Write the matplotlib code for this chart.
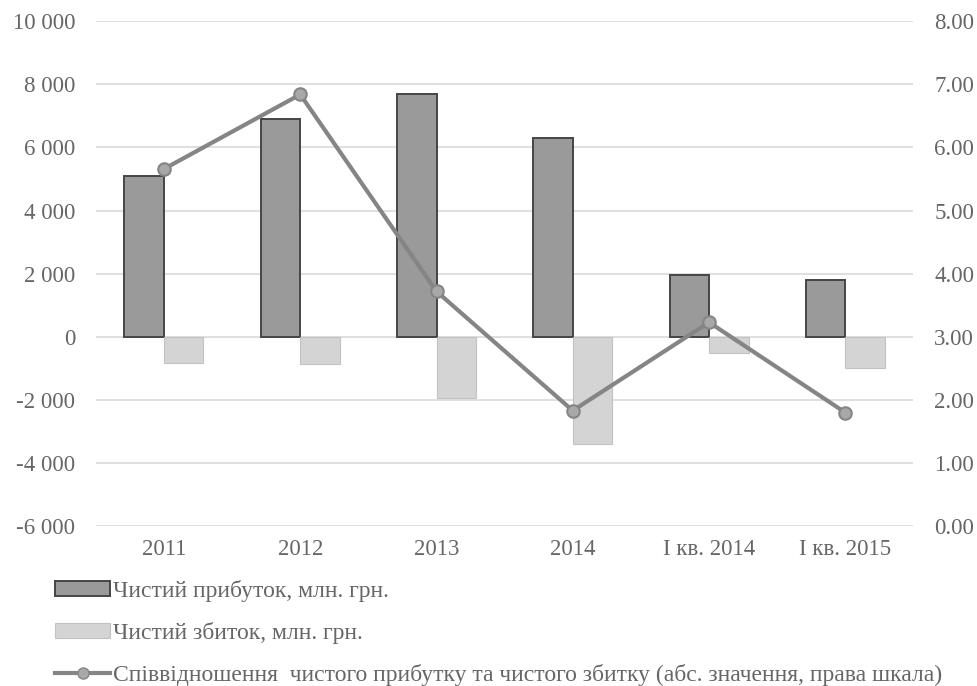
import numpy as np
import matplotlib
matplotlib.use('Agg')
import matplotlib.pyplot as plt
from matplotlib.lines import Line2D
from matplotlib.patches import Patch

plt.rcParams['font.family'] = ['Liberation Serif', 'DejaVu Serif']

categories = ['2011', '2012', '2013', '2014', 'І кв. 2014', 'І кв. 2015']
profit = [5100, 6900, 7700, 6300, 1950, 1800]
loss = [-820, -870, -1950, -3400, -520, -1000]
ratio = [5.66, 6.84, 3.72, 1.83, 3.23, 1.80]

label_profit = 'Чистий прибуток, млн. грн.'
label_loss = 'Чистий збиток, млн. грн.'
label_ratio = 'Співвідношення  чистого прибутку та чистого збитку (абс. значення, права шкала)'

text_color = '#666666'
fs = 16.5

fig = plt.figure(figsize=(9.78, 6.86), dpi=100)
ax = fig.add_axes([0.098, 0.233, 0.836, 0.736])
ax2 = ax.twinx()

x = np.arange(len(categories))
w = 0.29

ax.bar(x - w / 2, profit, width=w, color='#9a9a9a', edgecolor='#454545', linewidth=1.4, zorder=3)
ax.bar(x + w / 2, loss, width=w, color='#d4d4d4', edgecolor='#c2c2c2', linewidth=0.8, zorder=3)

ax.set_xlim(-0.5, len(categories) - 0.5)
ax.set_ylim(-6000, 10000)
ticks_left = list(range(-6000, 10001, 2000))
ax.set_yticks(ticks_left)
ax.set_yticklabels(['{:,}'.format(v).replace(',', ' ') for v in ticks_left])
ax.grid(axis='y', color='#d9d9d9', linewidth=1.2, zorder=0)
ax.set_axisbelow(True)
ax.set_xticks(x)
ax.set_xticklabels(categories)

ax2.plot(x, ratio, color='#858585', linewidth=3, marker='o', markersize=9,
         markerfacecolor='#a8a8a8', markeredgecolor='#858585', markeredgewidth=1.5, zorder=5)
ax2.set_ylim(0, 8)
ticks_right = np.arange(0, 8.01, 1)
ax2.set_yticks(ticks_right)
ax2.set_yticklabels(['{:.2f}'.format(v) for v in ticks_right])

for a in (ax, ax2):
    for s in a.spines.values():
        s.set_visible(False)
    a.tick_params(length=0, labelsize=fs, labelcolor=text_color, pad=15)
ax.tick_params(axis='x', pad=9)

handles = [
    Patch(facecolor='#9a9a9a', edgecolor='#454545', linewidth=1.4),
    Patch(facecolor='#d4d4d4', edgecolor='#c2c2c2', linewidth=0.8),
    Line2D([0], [0], color='#858585', linewidth=3, marker='o', markersize=8,
           markerfacecolor='#a8a8a8', markeredgecolor='#858585'),
]
fig.legend(handles, [label_profit, label_loss, label_ratio], loc='upper left',
           bbox_to_anchor=(0.047, 0.169), frameon=False, fontsize=17,
           labelcolor=text_color, handlelength=2.3, handleheight=0.6, handletextpad=0.12,
           labelspacing=0.86, borderaxespad=0)

fig.savefig('out.png', dpi=100)
